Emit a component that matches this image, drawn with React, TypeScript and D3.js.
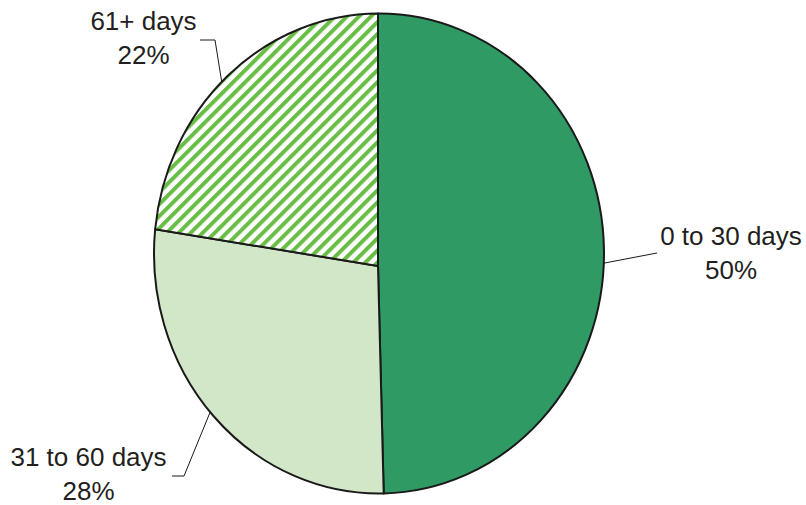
import React from "react";
import * as d3 from "d3";

const categories = ["0 to 30 days", "31 to 60 days", "61+ days"];
const values = [49.6, 28.0, 22.4];
const percentLabels = ["50%", "28%", "22%"];

const W = 806;
const H = 505;
const CX = 379;
const CY = 253.5;
const RX = 225;
const RY = 240;
const APEX = { x: 378, y: 266 };
const FONT = "'Liberation Sans', Arial, Helvetica, sans-serif";
const FILLS = ["#2f9a64", "#d2e7c7", "url(#stripes)"];
// label layout: text centre x, first baseline y, elbow points of leader (from text side)
const LABEL_LAYOUT = [
  { x: 731, y: 245, leader: [[657, 253]] },
  { x: 88.5, y: 466, leader: [[172, 476], [184, 476]] },
  { x: 143.5, y: 30, leader: [[200, 40], [215, 40]] },
];

function rayHit(theta: number) {
  const dx = Math.sin(theta);
  const dy = -Math.cos(theta);
  const ox = (APEX.x - CX) / RX;
  const oy = (APEX.y - CY) / RY;
  const ux = dx / RX;
  const uy = dy / RY;
  const a = ux * ux + uy * uy;
  const b = 2 * (ox * ux + oy * uy);
  const c = ox * ox + oy * oy - 1;
  const t = (-b + Math.sqrt(b * b - 4 * a * c)) / (2 * a);
  return { x: APEX.x + t * dx, y: APEX.y + t * dy };
}

function paramAngle(p: { x: number; y: number }) {
  return Math.atan2((p.x - CX) / RX, -(p.y - CY) / RY);
}

export default function App() {
  const pie = d3.pie<number>().sort(null).value((d) => d);
  const arcs = pie(values);

  const slices = arcs.map((a, i) => {
    const p1 = rayHit(a.startAngle);
    const p2 = rayHit(a.endAngle);
    let diff = paramAngle(p2) - paramAngle(p1);
    diff = ((diff % (2 * Math.PI)) + 2 * Math.PI) % (2 * Math.PI);
    const large = diff > Math.PI ? 1 : 0;
    const d =
      `M${APEX.x},${APEX.y}L${p1.x},${p1.y}` +
      `A${RX},${RY} 0 ${large} 1 ${p2.x},${p2.y}Z`;
    const mid = rayHit((a.startAngle + a.endAngle) / 2);
    return { d, mid, i };
  });

  return (
    <svg
      width={W}
      height={H}
      style={{ position: "absolute", left: 0, top: 0, background: "#fff" }}
    >
      <defs>
        <pattern
          id="stripes"
          patternUnits="userSpaceOnUse"
          width={8.5}
          height={8.5}
          patternTransform="rotate(45)"
        >
          <rect width={8.5} height={8.5} fill="#ffffff" />
          <rect width={4} height={8.5} fill="#68bd45" />
        </pattern>
      </defs>
      {slices.map((s) => (
        <path
          key={s.i}
          d={s.d}
          fill={FILLS[s.i]}
          stroke="#1a1a1a"
          strokeWidth={2}
          strokeLinejoin="round"
        />
      ))}
      {slices.map((s) => {
        const lay = LABEL_LAYOUT[s.i];
        const pts = [...lay.leader, [s.mid.x, s.mid.y]];
        const line = d3.line()(pts as [number, number][]);
        return (
          <g key={"l" + s.i}>
            <path d={line || ""} fill="none" stroke="#1a1a1a" strokeWidth={1} />
            <text
              x={lay.x}
              y={lay.y}
              textAnchor="middle"
              fontFamily={FONT}
              fontSize={26}
              fill="#231f20"
            >
              {categories[s.i]}
            </text>
            <text
              x={lay.x}
              y={lay.y + 33.5}
              textAnchor="middle"
              fontFamily={FONT}
              fontSize={26}
              fill="#231f20"
            >
              {percentLabels[s.i]}
            </text>
          </g>
        );
      })}
    </svg>
  );
}
